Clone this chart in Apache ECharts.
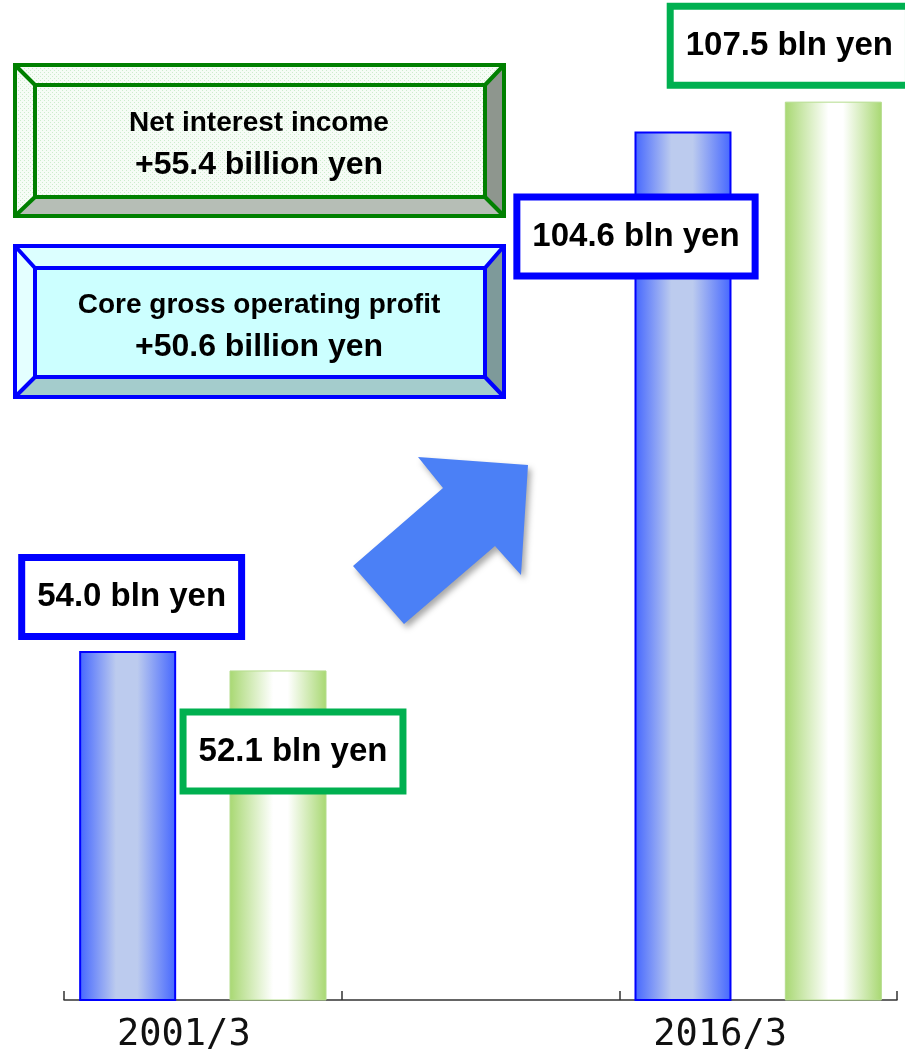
<!DOCTYPE html>
<html>
<head>
<meta charset="utf-8">
<script src="https://cdn.jsdelivr.net/npm/echarts@6/dist/echarts.min.js"></script>
<style>
  html, body { margin: 0; padding: 0; background: #ffffff; }
  #chart { width: 905px; height: 1051px; }
</style>
</head>
<body>
<div id="chart"></div>
<script>
// Fiscal years on the category axis (the middle slot is an empty spacer)
const categories = ['2001/3', '', '2016/3'];
// Core gross operating profit, billion yen
const coreGrossProfit = [54.0, '-', 104.6];
// Net interest income, billion yen
const netInterestIncome = [52.1, '-', 107.5];
// Increase between the two years, billion yen
const increaseNII = 55.4;
const increaseCore = 50.6;

const FONT = '"Liberation Sans", Arial, sans-serif';

// Horizontal shift of each year label (right padding moves the text left)
const yearLabelShift = [38, 0, 76];

// Placement of each value box relative to its bar
const corePlacement = [
  { position: 'top', distance: 18, offset: [4, 0] },
  null,
  { position: 'insideTop', distance: 69, offset: [-47, 0] }
];
const niiPlacement = [
  { position: 'insideTop', distance: 45, offset: [15, 0] },
  null,
  { position: 'top', distance: 20, offset: [-44, 0] }
];

function valueBox(borderColor) {
  return {
    show: true,
    formatter: p => Number(p.value).toFixed(1) + ' bln yen',
    color: '#000',
    fontFamily: FONT,
    fontWeight: 'bold',
    fontSize: 33,
    lineHeight: 34,
    backgroundColor: '#ffffff',
    borderColor: borderColor,
    borderWidth: 7,
    padding: [19, 12],
    textBorderWidth: 0
  };
}

function buildItems(values, placements, borderColor) {
  return values.map((v, i) => {
    if (v === '-') return '-';
    return { value: v, label: Object.assign(valueBox(borderColor), placements[i]) };
  });
}

// Light dotted fill for the net interest income panel
function dotPattern() {
  const c = document.createElement('canvas');
  c.width = 4; c.height = 4;
  const g = c.getContext('2d');
  g.fillStyle = '#f6fcf6';
  g.fillRect(0, 0, 4, 4);
  g.fillStyle = '#cdeccd';
  g.fillRect(0, 0, 1, 1);
  g.fillRect(2, 2, 1, 1);
  return { image: c, repeat: 'repeat' };
}

// Raised panel: four bevelled faces around an inner face, outlined
function bevelPanel(o, inner, colors, stroke) {
  const [x0, y0, x1, y1] = o;
  const [a0, b0, a1, b1] = inner;
  const face = (pts, fill) => ({
    type: 'polygon',
    shape: { points: pts },
    style: { fill: fill }
  });
  const line = (p, q) => ({
    type: 'line',
    shape: { x1: p[0], y1: p[1], x2: q[0], y2: q[1] },
    style: { stroke: stroke, lineWidth: 4, lineCap: 'round' }
  });
  const rect = (x, y, w, h) => ({
    type: 'rect',
    shape: { x: x, y: y, width: w, height: h },
    style: { fill: null, stroke: stroke, lineWidth: 4 }
  });
  return [
    face([[x0, y0], [x1, y0], [a1, b0], [a0, b0]], colors.top),
    face([[x0, y0], [a0, b0], [a0, b1], [x0, y1]], colors.left),
    face([[x1, y0], [x1, y1], [a1, b1], [a1, b0]], colors.right),
    face([[x0, y1], [a0, b1], [a1, b1], [x1, y1]], colors.bottom),
    face([[a0, b0], [a1, b0], [a1, b1], [a0, b1]], colors.face),
    line([x0, y0], [a0, b0]),
    line([x1, y0], [a1, b0]),
    line([x0, y1], [a0, b1]),
    line([x1, y1], [a1, b1]),
    rect(x0, y0, x1 - x0, y1 - y0),
    rect(a0, b0, a1 - a0, b1 - b0)
  ];
}

function panelText(x, y, text, size) {
  return {
    type: 'text',
    x: x, y: y,
    style: {
      text: text,
      fill: '#000',
      font: 'bold ' + size + 'px ' + FONT,
      align: 'center',
      verticalAlign: 'middle'
    }
  };
}

const dots = dotPattern();

const graphics = [].concat(
  bevelPanel([15, 65, 504, 216], [35, 85, 485, 197], {
    top: dots, left: dots, face: dots, right: '#8e968e', bottom: '#b6beb6'
  }, '#008000'),
  [
    panelText(259, 123, 'Net interest income', 28),
    panelText(259, 165, '+' + increaseNII.toFixed(1) + ' billion yen', 32)
  ],
  bevelPanel([15, 246, 504, 397], [35, 268, 485, 377], {
    top: '#dcffff', left: '#e4ffff', face: '#ccffff', right: '#7e9a9a', bottom: '#a4cccc'
  }, '#0000ff'),
  [
    panelText(259, 305, 'Core gross operating profit', 28),
    panelText(259, 347, '+' + increaseCore.toFixed(1) + ' billion yen', 32)
  ],
  [{
    // Upward arrow between the two years
    type: 'polygon',
    shape: {
      points: [[353, 566], [404, 624], [495, 546], [521, 575], [528, 465], [418, 457], [443, 488]]
    },
    style: {
      fill: '#4b80f6',
      shadowBlur: 6,
      shadowOffsetX: 3,
      shadowOffsetY: 4,
      shadowColor: 'rgba(0,0,0,0.35)'
    }
  }]
);

const blueFill = new echarts.graphic.LinearGradient(0, 0, 1, 0, [
  { offset: 0, color: '#4466ff' },
  { offset: 0.38, color: '#bccbee' },
  { offset: 0.6, color: '#bccbee' },
  { offset: 1, color: '#4466ff' }
]);
const greenFill = new echarts.graphic.LinearGradient(0, 0, 1, 0, [
  { offset: 0, color: '#a8d872' },
  { offset: 0.45, color: '#ffffff' },
  { offset: 0.6, color: '#ffffff' },
  { offset: 1, color: '#a8d872' }
]);

const chart = echarts.init(document.getElementById('chart'), null, { renderer: 'canvas' });
chart.setOption({
  animation: false,
  backgroundColor: '#ffffff',
  grid: {
    left: 64, right: 8, top: 76, bottom: 51,
    containLabel: false,
    outerBoundsMode: 'none'
  },
  xAxis: {
    type: 'category',
    data: categories.map((c, i) => ({
      value: c,
      textStyle: { padding: [0, yearLabelShift[i], 0, 0] }
    })),
    axisLine: { lineStyle: { color: '#333333', width: 1.5 } },
    axisTick: { show: true, inside: true, length: 9, lineStyle: { color: '#333333', width: 1.5 } },
    axisLabel: {
      color: '#111111',
      fontFamily: '"DejaVu Sans Mono", monospace',
      fontSize: 37,
      margin: 17
    }
  },
  yAxis: {
    type: 'value',
    min: 20,
    max: 110,
    show: false,
    splitLine: { show: false }
  },
  series: [
    {
      name: 'Core gross operating profit',
      type: 'bar',
      barWidth: 97,
      barGap: '55%',
      itemStyle: { color: blueFill, borderColor: '#0000ff', borderWidth: 2 },
      data: buildItems(coreGrossProfit, corePlacement, '#0000ff')
    },
    {
      name: 'Net interest income',
      type: 'bar',
      barWidth: 97,
      barGap: '55%',
      itemStyle: { color: greenFill, borderColor: '#b4dc8c', borderWidth: 1 },
      data: buildItems(netInterestIncome, niiPlacement, '#00b050')
    }
  ],
  graphic: graphics
});
</script>
</body>
</html>
